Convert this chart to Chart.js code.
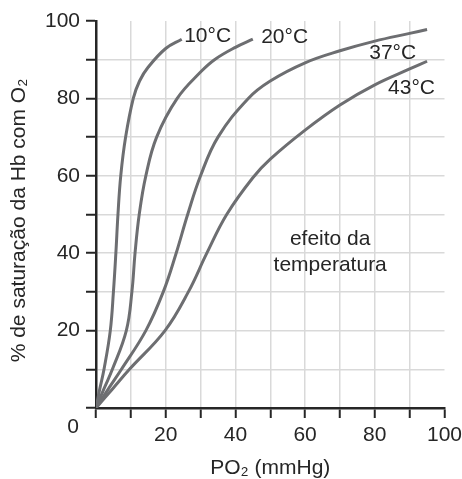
<!DOCTYPE html>
<html lang="pt">
<head>
<meta charset="utf-8">
<title>Curvas de saturação da Hb – efeito da temperatura</title>
<script src="https://cdn.jsdelivr.net/npm/chart.js@4/dist/chart.umd.min.js"></script>
<style>
  html, body { margin: 0; padding: 0; background: #fff; }
  #wrap { position: relative; width: 462px; height: 479px; }
</style>
</head>
<body>
<div id="wrap"><canvas id="chart"></canvas></div>
<script>
'use strict';

// Curves: PO2 (mmHg) vs % saturation, one pair per temperature.
const po2_10 = [0, 1.1, 2.3, 4.1, 5.0, 5.7, 6.3, 7.1, 8.5, 10.7, 12.5, 15, 20, 24.6];
const sat_10 = [0, 5, 10, 20, 30, 40, 50, 60, 70, 80, 84.5, 88.1, 92.9, 95.3];

const po2_20 = [0, 2.3, 4.7, 8.7, 10.3, 11.2, 12.4, 14.3, 17.4, 23.3, 30, 34, 40, 45];
const sat_20 = [0, 5, 10, 20, 30, 40, 50, 60, 70, 80, 86.8, 90, 93.2, 95.3];

const po2_37 = [0, 3.6, 7.3, 14.3, 19.3, 23, 26.3, 30, 35, 43.7, 50, 60, 70, 80, 90, 95];
const sat_37 = [0, 5, 10, 20, 30, 40, 50, 60, 70, 80, 84.5, 89.2, 92.3, 94.8, 96.8, 97.8];

const po2_43 = [0, 4.8, 9.6, 19.8, 26.5, 31.8, 37.5, 45, 50, 60, 70, 80, 90, 95];
const sat_43 = [0, 5, 10, 20, 30, 40, 50, 59.5, 64.3, 71.8, 78.3, 83.5, 87.6, 89.6];

const curveLabels = ['10°C', '20°C', '37°C', '43°C'];
const xTickLabels = ['20', '40', '60', '80', '100'];
const yTickLabels = ['20', '40', '60', '80', '100'];

const INK = '#262626';
const CURVE = '#6d6e71';
const GRID = '#d9d9d9';
const FONT = '"Liberation Sans", Arial, sans-serif';
const SIZE = 21;

function points(xs, ys) {
  return xs.map(function (x, i) { return { x: x, y: ys[i] }; });
}

function curve(label, xs, ys) {
  return {
    label: label,
    data: points(xs, ys),
    borderColor: CURVE,
    borderWidth: 3,
    pointRadius: 0,
    fill: false,
    tension: 0.4,
  };
}

// Gridlines every 10, but none along the 100 edges (ticks only there).
function gridColor(ctx) {
  return ctx.tick && ctx.tick.value === 100 ? 'rgba(0,0,0,0)' : GRID;
}

function tickText(list) {
  return function (v) { return list.indexOf(String(v)) >= 0 ? String(v) : ''; };
}

// Text placed in data units: curve names, the note, the shared origin "0"
// and the rotated y title (sits a little below the axis middle in the original).
const notes = {
  id: 'notes',
  afterDraw: function (chart) {
    const c = chart.ctx, xs = chart.scales.x, ys = chart.scales.y;
    const area = chart.chartArea;
    const at = [[25.3, 96], [47.4, 95.7], [78.4, 91.7], [83.8, 82.6]];
    c.save();
    c.fillStyle = INK;
    c.font = SIZE + 'px ' + FONT;
    c.textBaseline = 'middle';
    c.textAlign = 'left';
    curveLabels.forEach(function (t, i) {
      c.fillText(t, xs.getPixelForValue(at[i][0]), ys.getPixelForValue(at[i][1]));
    });
    c.textAlign = 'center';
    c.fillText('efeito da', xs.getPixelForValue(67.2), ys.getPixelForValue(43.6));
    c.fillText('temperatura', xs.getPixelForValue(67.2), ys.getPixelForValue(36.9));
    c.fillText('0', xs.getPixelForValue(0) - 23, ys.getPixelForValue(0) + 19);

    c.translate(area.left - 77, (area.top + area.bottom) / 2 + 6);
    c.rotate(-Math.PI / 2);
    c.fillText('% de saturação da Hb com O₂', 0, 0);
    c.restore();
  },
};

new Chart(document.getElementById('chart'), {
  type: 'line',
  data: {
    datasets: [
      curve(curveLabels[0], po2_10, sat_10),
      curve(curveLabels[1], po2_20, sat_20),
      curve(curveLabels[2], po2_37, sat_37),
      curve(curveLabels[3], po2_43, sat_43),
    ],
  },
  options: {
    responsive: true,
    maintainAspectRatio: false,
    animation: false,
    layout: { padding: { top: 21, right: 17.5, left: 0, bottom: 0 } },
    plugins: { legend: { display: false }, tooltip: { enabled: false } },
    scales: {
      x: {
        type: 'linear',
        min: 0,
        max: 100,
        // fixed height; the "100" label may run to the canvas edge, as in the original
        afterFit: function (s) { s.height = 71; s.paddingRight = 0; s.paddingLeft = 0; },
        ticks: {
          stepSize: 10,
          autoSkip: false,
          maxRotation: 0,
          padding: 5,
          color: INK,
          font: { family: FONT, size: SIZE },
          callback: tickText(xTickLabels),
        },
        grid: { color: gridColor, lineWidth: 1.5, tickLength: 10, tickColor: INK, tickWidth: 2 },
        border: { color: INK, width: 2.5 },
        title: {
          display: true,
          text: 'PO₂ (mmHg)',
          color: INK,
          font: { family: FONT, size: SIZE, lineHeight: 1 },
          padding: { top: 0, bottom: 0 },
        },
      },
      y: {
        min: 0,
        max: 100,
        afterFit: function (s) { s.width = 96; },
        ticks: {
          stepSize: 10,
          autoSkip: false,
          padding: 6,
          color: INK,
          font: { family: FONT, size: SIZE },
          callback: tickText(yTickLabels),
        },
        grid: { color: gridColor, lineWidth: 1.5, tickLength: 10, tickColor: INK, tickWidth: 2 },
        border: { color: INK, width: 2.5 },
        title: { display: false },
      },
    },
  },
  plugins: [notes],
});
</script>
</body>
</html>
